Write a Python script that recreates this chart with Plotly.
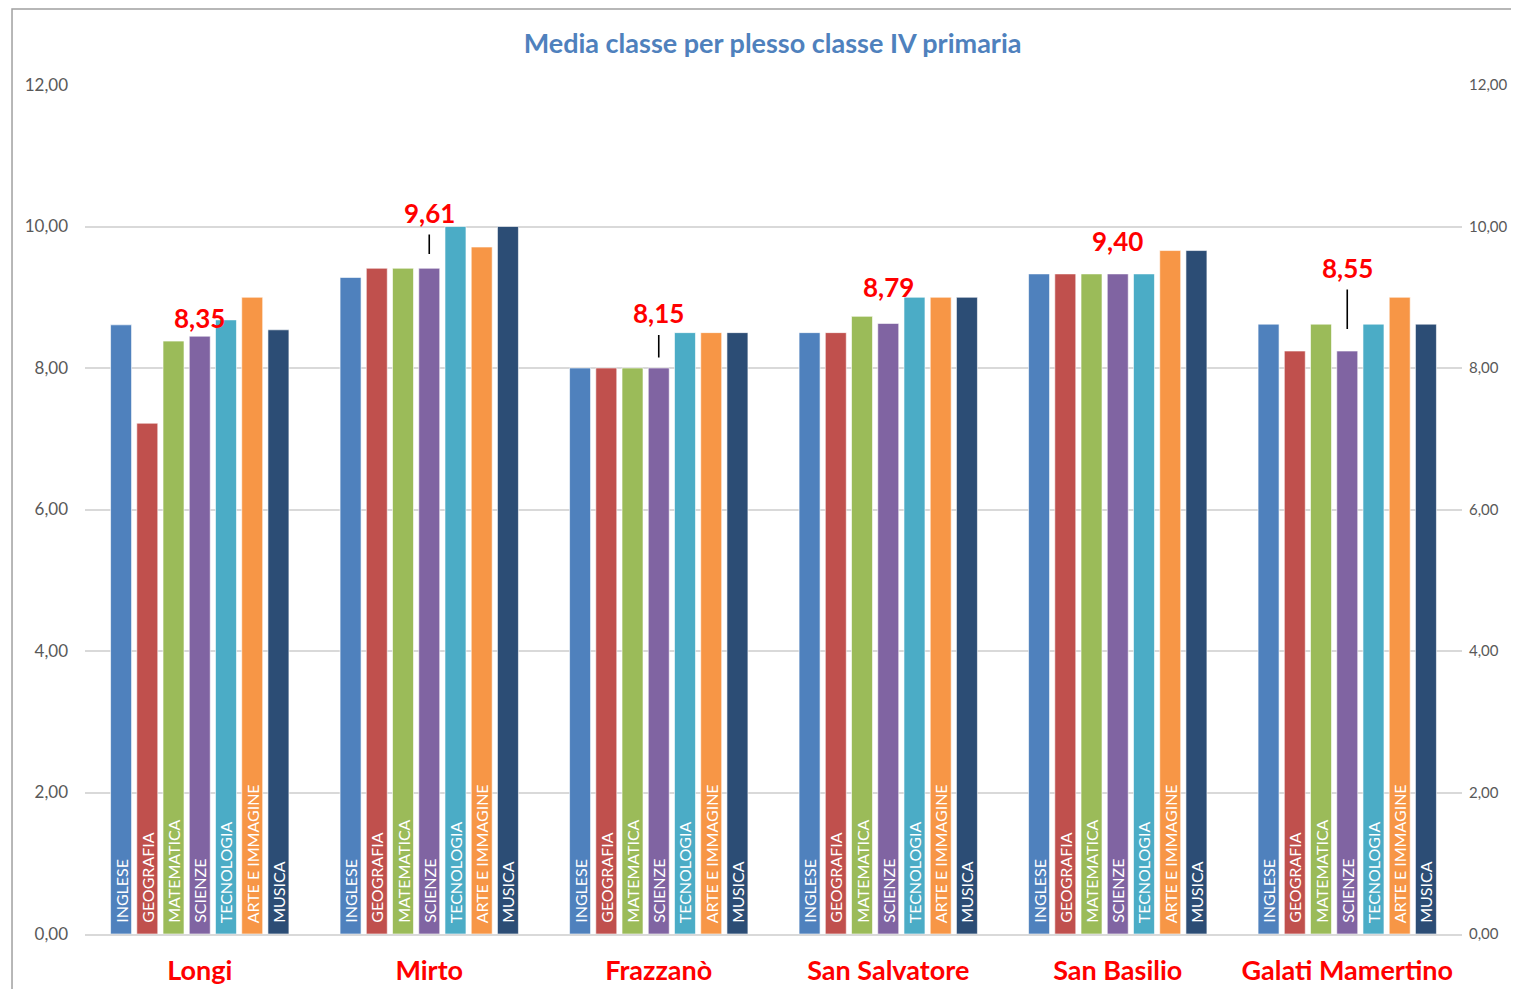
import plotly.graph_objects as go

plessi = ["Longi", "Mirto", "Frazzanò", "San Salvatore", "San Basilio", "Galati Mamertino"]
materie = ["INGLESE", "GEOGRAFIA", "MATEMATICA", "SCIENZE", "TECNOLOGIA", "ARTE E IMMAGINE", "MUSICA"]

inglese = [8.61, 9.28, 8.00, 8.50, 9.33, 8.62]
geografia = [7.22, 9.41, 8.00, 8.50, 9.33, 8.24]
matematica = [8.38, 9.41, 8.00, 8.73, 9.33, 8.62]
scienze = [8.45, 9.41, 8.00, 8.63, 9.33, 8.24]
tecnologia = [8.68, 10.00, 8.50, 9.00, 9.33, 8.62]
arte = [9.00, 9.71, 8.50, 9.00, 9.66, 9.00]
musica = [8.54, 10.00, 8.50, 9.00, 9.66, 8.62]

medie = [8.35, 9.61, 8.15, 8.79, 9.40, 8.55]
medie_label = ["8,35", "9,61", "8,15", "8,79", "9,40", "8,55"]

y_ticks = [0, 2, 4, 6, 8, 10, 12]

valori = [inglese, geografia, matematica, scienze, tecnologia, arte, musica]
colori = ["#4F81BD", "#C0504D", "#9BBB59", "#8064A2", "#4BACC6", "#F79646", "#2C4D75"]

# label placement (pixel offsets above the point) and leader-line flags
label_offset = [-25, -41, -44, -25, -28, -61]
leader = [False, True, True, False, False, True]

FONT = "Lato"
W, H = 1511, 981

fig = go.Figure()
for nome, vals, col in zip(materie, valori, colori):
    fig.add_trace(go.Bar(
        name=nome, x=plessi, y=vals,
        marker=dict(color=col, line=dict(color="rgba(255,255,255,0.6)", width=1)),
        text=["\u00a0\u00a0" + nome] * len(plessi),
        textposition="inside", insidetextanchor="start", textangle=-90,
        insidetextfont=dict(color="white", size=16, family=FONT),
        cliponaxis=False, hoverinfo="x+y+name",
    ))

fig.add_trace(go.Scatter(
    x=plessi, y=medie, yaxis="y2", mode="markers",
    marker=dict(color="rgba(0,0,0,0)", size=1), showlegend=False, hoverinfo="skip",
))

for p, m, lab, off, ld in zip(plessi, medie, medie_label, label_offset, leader):
    if ld:
        fig.add_annotation(x=p, y=m, xref="x", yref="y", text=lab, showarrow=True,
                           arrowhead=0, arrowwidth=1.6, arrowcolor="#000000",
                           ax=0, ay=off, borderpad=5, standoff=0,
                           font=dict(color="#FF0000", size=26, family=FONT, weight="bold"))
    else:
        fig.add_annotation(x=p, y=m, xref="x", yref="y", text=lab, showarrow=False,
                           yshift=-off, yanchor="middle",
                           font=dict(color="#FF0000", size=26, family=FONT, weight="bold"))

fig.update_layout(
    width=W, height=H,
    margin=dict(l=77, r=57, t=77, b=55, autoexpand=False),
    paper_bgcolor="white", plot_bgcolor="white",
    separators=",.",
    barmode="group", bargap=0.2, bargroupgap=0.2,
    uniformtext=dict(minsize=16, mode="show"),
    showlegend=False,
    title=dict(text="Media classe per plesso classe IV primaria", x=0.506, xanchor="center",
               y=1 - 36 / H, yanchor="middle", yref="container",
               font=dict(color="#4F81BD", size=27, family=FONT, weight="bold")),
    xaxis=dict(tickfont=dict(color="#FF0000", size=27, family=FONT, weight="bold"),
               showline=True, linecolor="#D9D9D9", linewidth=1.5, ticks="", showgrid=False,
               ticklabelstandoff=12, automargin=False),
    yaxis=dict(range=[0, 12], tickvals=y_ticks, tickformat=".2f",
               tickfont=dict(color="#595959", size=17, family=FONT),
               showgrid=True, gridcolor="#D9D9D9", gridwidth=1.5, zeroline=False,
               ticklabelstandoff=16, automargin=False),
    yaxis2=dict(range=[0, 12], tickvals=y_ticks, tickformat=".2f", overlaying="y", side="right",
                tickfont=dict(color="#595959", size=15, family=FONT),
                showgrid=False, zeroline=False, ticklabelstandoff=6, automargin=False),
    shapes=[dict(type="rect", xref="paper", yref="paper",
                 x0=-0.053, x1=1.2, y0=-0.3, y1=1.0895,
                 line=dict(color="#A0A0A0", width=1.5), fillcolor="rgba(0,0,0,0)", layer="below")],
)

fig.write_html("out.html")
